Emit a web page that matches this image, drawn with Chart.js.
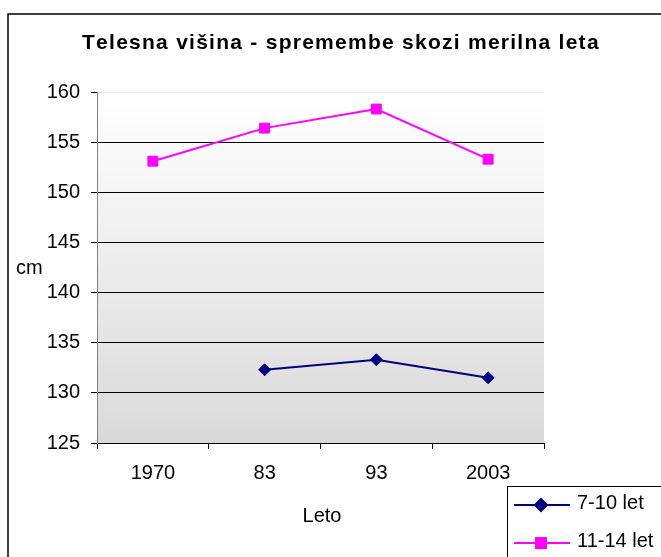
<!DOCTYPE html>
<html>
<head>
<meta charset="utf-8">
<script src="https://cdn.jsdelivr.net/npm/chart.js@4"></script>
<style>
  body { margin: 0; background: #fff; }
  canvas { display: block; }
</style>
</head>
<body>
<canvas id="chart" width="661" height="557"></canvas>
<script>
// chart data
const categories = ['1970', '83', '93', '2003'];
const age7to10 = [null, 132.3, 133.3, 131.5];
const age11to14 = [153.1, 156.4, 158.3, 153.3];
const seriesLabels = ['7-10 let', '11-14 let'];
const yMin = 125;
const yMax = 160;
const yStep = 5;

const titleText = 'Telesna višina - spremembe skozi merilna leta';
const yTitle = 'cm';
const xTitle = 'Leto';

const FONT = 'Arial, "Liberation Sans", sans-serif';

// gradient plot background
const plotBackground = {
  id: 'plotBackground',
  beforeDraw(chart) {
    const { ctx, chartArea: a } = chart;
    const g = ctx.createLinearGradient(0, a.top, 0, a.bottom);
    g.addColorStop(0, '#ffffff');
    g.addColorStop(1, '#d9d9d9');
    ctx.save();
    ctx.fillStyle = g;
    ctx.fillRect(a.left, a.top, a.right - a.left, a.bottom - a.top);
    ctx.restore();
  }
};

// outer frame, title, axis titles and legend box
const decorations = {
  id: 'decorations',
  afterDraw(chart) {
    const ctx = chart.ctx;
    ctx.save();
    // outer frame (right and bottom edges fall outside the picture)
    ctx.strokeStyle = '#000';
    ctx.lineWidth = 1.5;
    ctx.strokeRect(8, 14, 700, 600);

    // title, spaced out to the original's width
    ctx.fillStyle = '#000';
    ctx.font = 'bold 21px ' + FONT;
    ctx.textBaseline = 'alphabetic';
    ctx.textAlign = 'left';
    const w = ctx.measureText(titleText).width;
    const chars = Array.from(titleText);
    const extra = (515 - w) / (chars.length - 1);
    let x = 82;
    chars.forEach((ch) => {
      ctx.fillText(ch, x, 49);
      x += ctx.measureText(ch).width + extra;
    });

    // axis titles
    ctx.font = '20px ' + FONT;
    ctx.textBaseline = 'middle';
    ctx.fillText(yTitle, 16, 268);
    ctx.textAlign = 'center';
    ctx.fillText(xTitle, 322, 516);

    // legend
    ctx.fillStyle = '#fff';
    ctx.fillRect(507, 486, 200, 100);
    ctx.strokeStyle = '#000';
    ctx.lineWidth = 1;
    ctx.strokeRect(507.5, 486.5, 200, 100);
    const rows = [505, 543];
    chart.data.datasets.forEach((ds, i) => {
      const y = rows[i];
      ctx.strokeStyle = ds.borderColor;
      ctx.lineWidth = 2;
      ctx.beginPath();
      ctx.moveTo(514, y);
      ctx.lineTo(570, y);
      ctx.stroke();
      ctx.fillStyle = ds.pointBackgroundColor;
      ctx.strokeStyle = ds.borderColor;
      Chart.helpers.drawPoint(ctx, {
        pointStyle: ds.pointStyle,
        radius: ds.pointRadius,
        borderWidth: 1
      }, 541, y);
      ctx.fillStyle = '#000';
      ctx.font = '20px ' + FONT;
      ctx.textAlign = 'left';
      ctx.textBaseline = 'middle';
      ctx.fillText(ds.label, 577, y - 2);
    });
    ctx.restore();
  }
};

new Chart(document.getElementById('chart'), {
  type: 'line',
  data: {
    labels: categories,
    datasets: [
      {
        label: seriesLabels[0],
        data: age7to10,
        borderColor: '#000080',
        backgroundColor: '#000080',
        pointBackgroundColor: '#000080',
        pointBorderColor: '#000080',
        pointStyle: 'rectRot',
        pointRadius: 6,
        pointBorderWidth: 1,
        borderWidth: 2,
        tension: 0
      },
      {
        label: seriesLabels[1],
        data: age11to14,
        borderColor: '#ff00ff',
        backgroundColor: '#ff00ff',
        pointBackgroundColor: '#ff00ff',
        pointBorderColor: '#ff00ff',
        pointStyle: 'rect',
        pointRadius: 7,
        pointBorderWidth: 1,
        borderWidth: 2,
        tension: 0
      }
    ]
  },
  options: {
    responsive: false,
    animation: false,
    events: [],
    layout: { padding: { top: 92, right: 117, left: 0, bottom: 0 } },
    plugins: {
      legend: { display: false },
      title: { display: false },
      tooltip: { enabled: false }
    },
    scales: {
      x: {
        offset: true,
        afterFit(scale) { scale.height = 114; },
        border: { color: '#000', width: 1 },
        grid: {
          offset: true,
          drawOnChartArea: false,
          drawTicks: true,
          tickLength: 6,
          tickColor: '#000'
        },
        ticks: {
          color: '#000',
          font: { family: FONT, size: 20 },
          padding: 12,
          maxRotation: 0
        }
      },
      y: {
        min: yMin,
        max: yMax,
        afterFit(scale) { scale.width = 97; },
        border: { color: '#808080', width: 1 },
        grid: {
          color: (c) => (c.tick && c.tick.value === yMax ? '#eeeeee' : '#000'),
          tickColor: '#000',
          tickLength: 6,
          lineWidth: 1
        },
        ticks: {
          stepSize: yStep,
          color: '#000',
          font: { family: FONT, size: 20 },
          padding: 11
        }
      }
    }
  },
  plugins: [plotBackground, decorations]
});
</script>
</body>
</html>
